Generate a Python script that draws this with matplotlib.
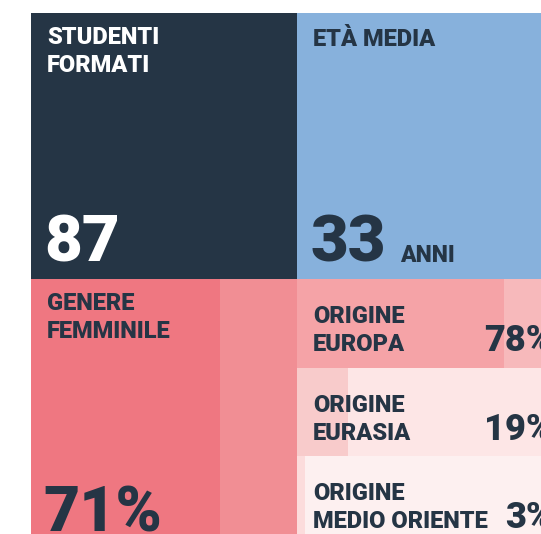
import matplotlib.pyplot as plt

# data
top_titles = ["STUDENTI\nFORMATI", "ETÀ MEDIA"]
top_values = ["87", "33"]
top_units = ["", "ANNI"]
gender_label = "GENERE\nFEMMINILE"
gender_pct = 71
origin_labels = ["ORIGINE\nEUROPA", "ORIGINE\nEURASIA", "ORIGINE\nMEDIO ORIENTE"]
origin_pct = [78, 19, 3]

# style
NAVY = "#253545"
BLUE = "#87b1dc"
top_colors = [NAVY, BLUE]
top_text = ["white", NAVY]
GENDER_DARK = "#ef7781"
GENDER_LIGHT = "#f18e94"
origin_dark = ["#f5a3a7", "#f8cbcb", "#fcdcdc"]
origin_light = ["#f7b9bb", "#fde6e6", "#fdf0f0"]

X0, Y0, TILE = 31, 13, 266
FONT = "Roboto"
W = "heavy"

fig = plt.figure(figsize=(5.41, 5.34), dpi=100)
ax = fig.add_axes([0, 0, 1, 1])
ax.set_xlim(0, 541)
ax.set_ylim(534, 0)
ax.axis("off")


def label(x, y_last, s, color, size=17):
    # y_last = baseline of the last line
    ax.text(x, y_last, s, color=color, fontsize=size, fontweight=W,
            family=FONT, va="baseline", linespacing=1.27)


# top row tiles
for i, (title, val, unit) in enumerate(zip(top_titles, top_values, top_units)):
    left = X0 + i * TILE
    ax.bar(left, TILE, width=TILE, bottom=Y0, align="edge", color=top_colors[i], lw=0)
    nlines = title.count("\n")
    label(left + 16, Y0 + 33 + 26 * nlines, title, top_text[i])
    ax.text(left + 13, Y0 + TILE - 17, val, color=top_text[i], fontsize=47,
            fontweight=W, family=FONT, va="baseline")
    if unit:
        ax.text(left + 103, Y0 + TILE - 17, unit, color=top_text[i], fontsize=16.5,
                fontweight=W, family=FONT, va="baseline")

# gender tile
gy = Y0 + TILE
ax.bar(X0, TILE, width=TILE, bottom=gy, align="edge", color=GENDER_LIGHT, lw=0)
ax.bar(X0, TILE, width=TILE * gender_pct / 100, bottom=gy, align="edge",
       color=GENDER_DARK, lw=0)
label(X0 + 16, gy + 59, gender_label, NAVY)
ax.text(X0 + 12, gy + TILE - 14, f"{gender_pct}%", color=NAVY, fontsize=45,
        fontweight=W, family=FONT, va="baseline")

# origin rows
rh = TILE / len(origin_pct)
ox = X0 + TILE
for i, (lab, pct) in enumerate(zip(origin_labels, origin_pct)):
    ry = gy + i * rh
    ax.barh(ry, TILE, height=rh, left=ox, align="edge", color=origin_light[i], lw=0)
    ax.barh(ry, TILE * pct / 100, height=rh, left=ox, align="edge",
            color=origin_dark[i], lw=0)
    label(ox + 16, ry + 72, lab, NAVY)
    ax.text(553, ry + 72, f"{pct}%", color=NAVY, fontsize=26,
            fontweight=W, family=FONT, va="baseline", ha="right")

fig.savefig("out.png", dpi=100)
